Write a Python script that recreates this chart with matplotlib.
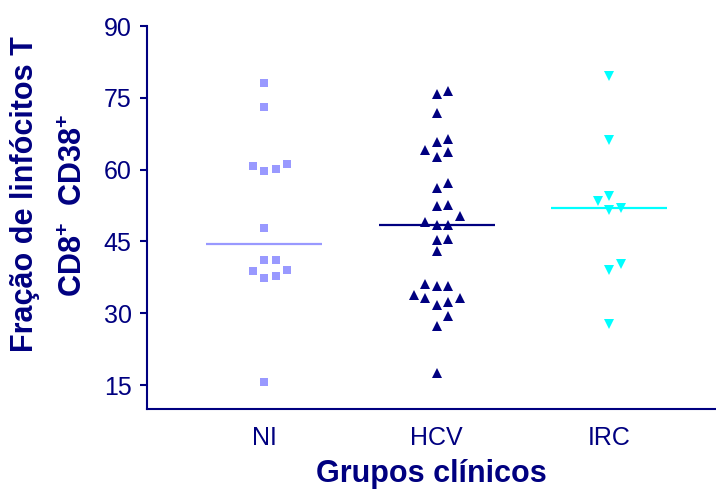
import numpy as np
import matplotlib
matplotlib.use("Agg")
import matplotlib.pyplot as plt

# Fração de linfócitos T CD8+ CD38+ por grupo clínico
groups = ["NI", "HCV", "IRC"]
ni = [78.0, 73.0, 61.1, 60.75, 60.1, 59.8, 47.9, 41.1, 41.1, 39.0, 38.75,
      37.8, 37.4, 15.6]
hcv = [76.5, 75.9, 71.8, 66.3, 65.7, 64.0, 63.7, 62.7, 57.3, 56.1, 52.7,
       52.3, 50.3, 49.0, 48.4, 48.4, 45.6, 45.4, 42.9, 36.2, 35.7, 35.7,
       33.8, 33.2, 33.2, 32.3, 31.7, 29.4, 27.4, 17.45]
irc = [79.6, 66.2, 54.5, 53.5, 51.9, 51.6, 40.2, 39.0, 27.7]
yticks = [15, 30, 45, 60, 75, 90]

NAVY = "#000080"
styles = [
    dict(marker="s", color="#9999FF", ms=6.3),
    dict(marker="^", color="#000080", ms=7.0),
    dict(marker="v", color="#00FFFF", ms=7.0),
]

plt.rcParams["font.family"] = ["Liberation Sans", "DejaVu Sans"]
plt.rcParams["mathtext.fontset"] = "custom"
plt.rcParams["mathtext.rm"] = "Liberation Sans:bold"
plt.rcParams["mathtext.bf"] = "Liberation Sans:bold"
plt.rcParams["mathtext.default"] = "bf"


def swarm_offsets(values, step, min_gap):
    """Espalha pontos com valores proximos em colunas lado a lado."""
    values = np.asarray(values, float)
    slots = np.zeros(len(values), int)
    placed = []
    for i in np.argsort(values, kind="stable"):
        v = values[i]
        for s in (0, 1, -1, 2, -2, 3, -3):
            if all(abs(v - pv) >= min_gap for ps, pv in placed if ps == s):
                break
        slots[i] = s
        placed.append((s, v))
    return slots * step


W, H = 716, 490
fig = plt.figure(figsize=(W / 100, H / 100), dpi=100)
ax = fig.add_axes([147 / W, 1 - 409 / H, (716 - 147) / W, (409 - 26) / H])

for k, (vals, st) in enumerate(zip([ni, hcv, irc], styles)):
    x = k + 1 + swarm_offsets(vals, 0.0667, 2.2)
    ax.plot(x, vals, linestyle="none", marker=st["marker"], ms=st["ms"],
            color=st["color"], markeredgewidth=0, zorder=3)
    med = np.median(vals)
    ax.hlines(med, k + 1 - 0.336, k + 1 + 0.336, colors=st["color"],
              linewidth=1.6, zorder=2)

ax.set_xlim(0.32, 3.62)
ax.set_ylim(10, 90)
ax.set_yticks(yticks)
ax.set_xticks([1, 2, 3])
ax.set_xticklabels(groups)

for side in ("top", "right"):
    ax.spines[side].set_visible(False)
for side in ("left", "bottom"):
    ax.spines[side].set_color(NAVY)
    ax.spines[side].set_linewidth(1.5)

ax.tick_params(axis="y", colors=NAVY, labelsize=18, length=5, width=1.5,
               pad=6)
ax.tick_params(axis="x", colors=NAVY, labelsize=18, length=0, pad=12)

ax.set_xlabel("Grupos clínicos", fontsize=22, fontweight="bold",
              color=NAVY, labelpad=6.5)

# rotulo do eixo y em duas linhas
fig.text(33 / W, 1 - 194.5 / H, "Fração de linfócitos T", rotation=90,
         rotation_mode="anchor", ha="center", va="baseline",
         fontsize=22, fontweight="bold", color=NAVY)
fig.text(82 / W, 1 - 205.5 / H, "CD8$^{+}$  CD38$^{+}$", rotation=90,
         rotation_mode="anchor", ha="center", va="baseline",
         fontsize=22, fontweight="bold", color=NAVY)

fig.savefig("out.png", dpi=100)
